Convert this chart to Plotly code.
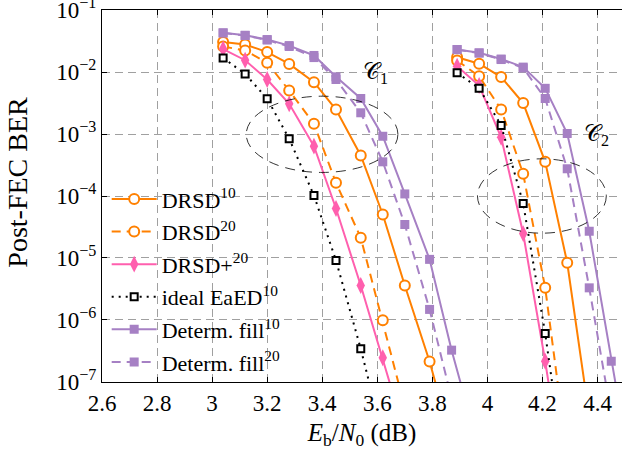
import plotly.graph_objects as go

# ---------------- data ----------------
x_c1 = [3.04, 3.12, 3.20, 3.28, 3.37, 3.45, 3.54, 3.62, 3.70, 3.79, 3.87, 3.96]
x_c2 = [3.89, 3.97, 4.05, 4.13, 4.21, 4.29, 4.37, 4.45, 4.53]

drsd10_c1 = [3.05e-2, 2.78e-2, 2.10e-2, 1.35e-2, 6.85e-3, 2.48e-3, 4.5e-4, 5.03e-5, 3.6e-6, 2.14e-7, 1.1e-8]
drsd10_c2 = [1.73e-2, 1.36e-2, 8.3e-3, 3.16e-3, 3.56e-4, 8.37e-6, 2.78e-8]

drsd20_c1 = [2.58e-2, 2.22e-2, 1.41e-2, 5.03e-3, 1.46e-3, 1.63e-4, 2.12e-5, 9.9e-7, 3.9e-8]
drsd20_c2 = [1.53e-2, 8.56e-3, 2.48e-3, 2.28e-4, 3.3e-6, 6.5e-9]

drsdp20_c1 = [2.35e-2, 1.55e-2, 7.57e-3, 3.07e-3, 6.36e-4, 6.29e-5, 3.6e-6, 2.46e-7, 1.48e-8]
drsdp20_c2 = [1.24e-2, 6.06e-3, 8.87e-4, 2.48e-5, 2.16e-7, 1.1e-9]

ideal10_c1 = [1.69e-2, 9.29e-3, 3.71e-3, 8.37e-4, 1.02e-4, 9.12e-6, 3.43e-7, 1.29e-8]
ideal10_c2 = [9.7e-3, 5.46e-3, 1.37e-3, 7.57e-5, 6.06e-7, 1.85e-9]

fill10_c1 = [4.29e-2, 3.92e-2, 3.34e-2, 2.67e-2, 1.85e-2, 8.37e-3, 3.74e-3, 9.2e-4, 1.08e-4, 9.5e-6, 3.26e-7, 1.14e-8]
fill10_c2 = [2.31e-2, 2.04e-2, 1.62e-2, 1.2e-2, 5.46e-3, 1.02e-3, 2.7e-5, 2.16e-7, 2.1e-9]

fill20_c1 = [4.26e-2, 3.88e-2, 3.28e-2, 2.58e-2, 1.71e-2, 7.57e-3, 2.2e-3, 3.56e-4, 3.47e-5, 1.48e-6, 5.4e-8]
fill20_c2 = [2.29e-2, 2.02e-2, 1.59e-2, 1.16e-2, 3.74e-3, 2.75e-4, 3.3e-6, 3.0e-8]

x_ticks = [2.6, 2.8, 3.0, 3.2, 3.4, 3.6, 3.8, 4.0, 4.2, 4.4]
x_ticklabels = ["2.6", "2.8", "3", "3.2", "3.4", "3.6", "3.8", "4", "4.2", "4.4"]
y_ticks = [1e-7, 1e-6, 1e-5, 1e-4, 1e-3, 1e-2, 1e-1]
y_ticklabels = ["10<sup>−7</sup>", "10<sup>−6</sup>", "10<sup>−5</sup>", "10<sup>−4</sup>",
                "10<sup>−3</sup>", "10<sup>−2</sup>", "10<sup>−1</sup>"]

names = ["DRSD<sup>10</sup>", "DRSD<sup>20</sup>", "DRSD+<sup>20</sup>",
         "ideal EaED<sup>10</sup>", "Determ. fill<sup>10</sup>", "Determ. fill<sup>20</sup>"]

# ---------------- styles ----------------
ORANGE = "#ff8000"
PINK = "#ff5fae"
PURPLE = "#a680c4"
FONT = "Liberation Serif"

series = [
    (names[0], drsd10_c1, drsd10_c2, ORANGE, "solid",
     dict(symbol="circle", size=10, color="white", line=dict(color=ORANGE, width=2))),
    (names[1], drsd20_c1, drsd20_c2, ORANGE, "9px,6px",
     dict(symbol="circle", size=10, color="white", line=dict(color=ORANGE, width=2))),
    (names[2], drsdp20_c1, drsdp20_c2, PINK, "solid",
     dict(symbol="diamond-tall", size=12, color=PINK, line=dict(color=PINK, width=0))),
    (names[3], ideal10_c1, ideal10_c2, "black", "2px,5px",
     dict(symbol="square", size=7, color="white", line=dict(color="black", width=2))),
    (names[4], fill10_c1, fill10_c2, PURPLE, "solid",
     dict(symbol="square", size=9, color=PURPLE, line=dict(color=PURPLE, width=0))),
    (names[5], fill20_c1, fill20_c2, PURPLE, "9px,6px",
     dict(symbol="square", size=9, color=PURPLE, line=dict(color=PURPLE, width=0))),
]

fig = go.Figure()
for i, (nm, y1, y2, col, dash, mk) in enumerate(series):
    xs = x_c1[:len(y1)] + [None] + x_c2[:len(y2)]
    ys = y1 + [None] + y2
    fig.add_trace(go.Scatter(
        x=xs, y=ys, name=nm, mode="lines+markers", connectgaps=False,
        line=dict(color=col, width=2, dash=dash), marker=mk,
        legendgroup="g%d" % i,
    ))

# ellipses
fig.add_shape(type="circle", xref="x", yref="y", x0=3.124, x1=3.675,
              y0=10 ** -3.62, y1=10 ** -2.39,
              line=dict(color="black", width=0.8, dash="10px,7px"), layer="above")
fig.add_shape(type="circle", xref="x", yref="y", x0=3.964, x1=4.432,
              y0=10 ** -4.6, y1=10 ** -3.4,
              line=dict(color="black", width=0.8, dash="10px,7px"), layer="above")

fig.add_annotation(x=3.593, y=-2.008, xref="x", yref="y", text="𝒞<sub>1</sub>",
                   showarrow=False, font=dict(family=FONT, size=23, color="black"))
fig.add_annotation(x=4.398, y=-3.008, xref="x", yref="y", text="𝒞<sub>2</sub>",
                   showarrow=False, font=dict(family=FONT, size=23, color="black"))

# y-axis title as rotated annotation
fig.add_annotation(x=-0.1615, y=0.536, xref="paper", yref="paper", text="Post-FEC BER",
                   textangle=-90, showarrow=False, xanchor="center", yanchor="middle",
                   font=dict(family=FONT, size=28, color="black"))

axis_common = dict(
    showline=True, linecolor="black", linewidth=1.2,
    ticks="inside", ticklen=5, tickcolor="black", tickwidth=1,
    showgrid=True, gridcolor="#a0a0a0", gridwidth=1, griddash="8px,5px",
    zeroline=False, tickfont=dict(family=FONT, size=23, color="black"),
    ticklabeloverflow="allow",
)

fig.update_xaxes(range=[2.6, 4.489], tickvals=x_ticks, ticktext=x_ticklabels,
                 mirror="ticks",
                 title=dict(text="<i>E</i><sub>b</sub>/<i>N</i><sub>0</sub> (dB)",
                            font=dict(family=FONT, size=25, color="black"), standoff=12),
                 **axis_common)
fig.update_yaxes(type="log", range=[-7.0005, -0.9995], tickvals=y_ticks, ticktext=y_ticklabels,
                 mirror=False, **axis_common)

fig.update_layout(
    width=622, height=450,
    margin=dict(l=102, r=0, t=10, b=68, autoexpand=False),
    plot_bgcolor="white", paper_bgcolor="white",
    font=dict(family=FONT, size=22, color="black"),
    legend=dict(x=0.009, y=0.548, xanchor="left", yanchor="top",
                bgcolor="rgba(0,0,0,0)", borderwidth=0,
                font=dict(family=FONT, size=22, color="black"),
                tracegroupgap=1, itemwidth=45),
    showlegend=True,
)

fig.write_html("out.html", config={"displayModeBar": False},
               post_script="document.body.style.margin='0px';document.body.style.overflow='hidden';")
